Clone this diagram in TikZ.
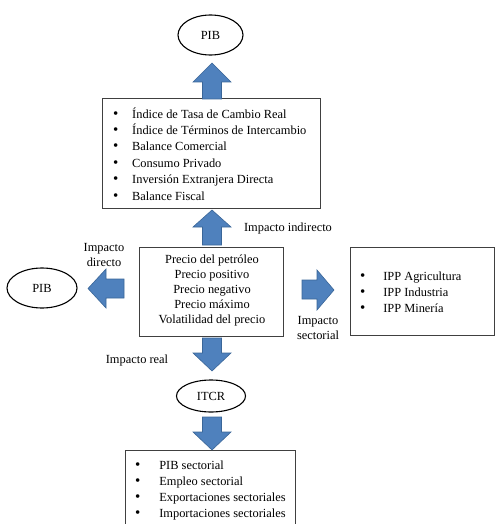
\documentclass[tikz,border=0pt]{standalone}
\usepackage{fontspec}
\setmainfont{Liberation Serif}
\usetikzlibrary{shapes.geometric}
\definecolor{arrfill}{HTML}{4F81BD}
\definecolor{arrdraw}{HTML}{3A6698}
\definecolor{boxline}{HTML}{404040}
\newcommand\blt[1][19pt]{\makebox[#1][l]{\fontsize{15}{15}\selectfont\textbullet}}
\begin{document}
\begin{tikzpicture}[x=1pt,y=-1pt,
  txt/.style={inner sep=0pt, font=\fontsize{12.4}{15}\selectfont},
  listtxt/.style={inner sep=0pt, anchor=base west, font=\fontsize{12.4}{#1}\selectfont},
  box/.style={draw=boxline, line width=1pt, rectangle, inner sep=0pt},
  oval/.style={draw=black, line width=1.1pt, ellipse, inner sep=0pt, font=\fontsize{12.4}{15}\selectfont},
  blk/.style={fill=arrfill, draw=arrdraw, line width=0.6pt, line join=miter}]
\useasboundingbox (0,0) rectangle (495,524);
\clip (0,0) rectangle (495,524);

% ellipses
\node[oval, minimum width=65pt, minimum height=40pt] (pibtop) at (210.5,35) {PIB};
\node[oval, minimum width=70pt, minimum height=40pt] (pibleft) at (42,288) {PIB};
\node[oval, minimum width=69pt, minimum height=32pt] (itcr) at (211,396) {ITCR};

% boxes
\node[box, minimum width=218pt, minimum height=109pt] (effects) at (211,153.5) {};
\node[box, minimum width=144pt, minimum height=89pt] (price) at (211,291.5) {};
\node[box, minimum width=144pt, minimum height=88pt] (ipp) at (422,291) {};
\node[box, minimum width=170pt, minimum height=80pt] (sector) at (210,490) {};

% box contents
\node[listtxt=16.4] (efflist) at (113,118) {\begin{tabular}[t]{@{}l@{}}
\blt Índice de Tasa de Cambio Real\\
\blt Índice de Términos de Intercambio\\
\blt Balance Comercial\\
\blt Consumo Privado\\
\blt Inversión Extranjera Directa\\
\blt Balance Fiscal
\end{tabular}};
\node[inner sep=0pt, anchor=base, font=\fontsize{12.4}{15}\selectfont] (pricelist) at (212,263) {\begin{tabular}[t]{@{}c@{}}
Precio del petróleo\\
Precio positivo\\
Precio negativo\\
Precio máximo\\
Volatilidad del precio
\end{tabular}};
\node[listtxt=16] (ipplist) at (360,280) {\begin{tabular}[t]{@{}l@{}}
\blt[20pt] IPP Agricultura\\
\blt[20pt] IPP Industria\\
\blt[20pt] IPP Minería
\end{tabular}};
\node[listtxt=16.3] (sectlist) at (135,469) {\begin{tabular}[t]{@{}l@{}}
\blt[21pt] PIB sectorial\\
\blt[21pt] Empleo sectorial\\
\blt[21pt] Exportaciones sectoriales\\
\blt[21pt] Importaciones sectoriales
\end{tabular}};

% block arrows
\draw[blk] (212,63) -- (231,82) -- (221.5,82) -- (221.5,99) -- (202.5,99) -- (202.5,82) -- (193,82) -- cycle;
\draw[blk] (212,210) -- (231,227) -- (221.5,227) -- (221.5,245) -- (202.5,245) -- (202.5,227) -- (193,227) -- cycle;
\draw[blk] (202.5,338) -- (221.5,338) -- (221.5,353) -- (231,353) -- (212,371) -- (193,353) -- (202.5,353) -- cycle;
\draw[blk] (202.5,417) -- (221.5,417) -- (221.5,432) -- (231,432) -- (212,450) -- (193,432) -- (202.5,432) -- cycle;
\draw[blk] (88,288.5) -- (106,269) -- (106,279) -- (124,279) -- (124,298) -- (106,298) -- (106,308) -- cycle;
\draw[blk] (302,280) -- (317,280) -- (317,270) -- (334,290) -- (317,310) -- (317,299) -- (302,299) -- cycle;

% labels
\node[txt, anchor=base] (lblind) at (288,231) {Impacto indirecto};
\node[txt, anchor=base] (lbldir) at (104,251) {\begin{tabular}[t]{@{}c@{}}Impacto\\ directo\end{tabular}};
\node[txt, anchor=base] (lblsec) at (318,324) {\begin{tabular}[t]{@{}c@{}}Impacto\\ sectorial\end{tabular}};
\node[txt, anchor=base] (lblreal) at (137,363) {Impacto real};
\end{tikzpicture}
\end{document}
